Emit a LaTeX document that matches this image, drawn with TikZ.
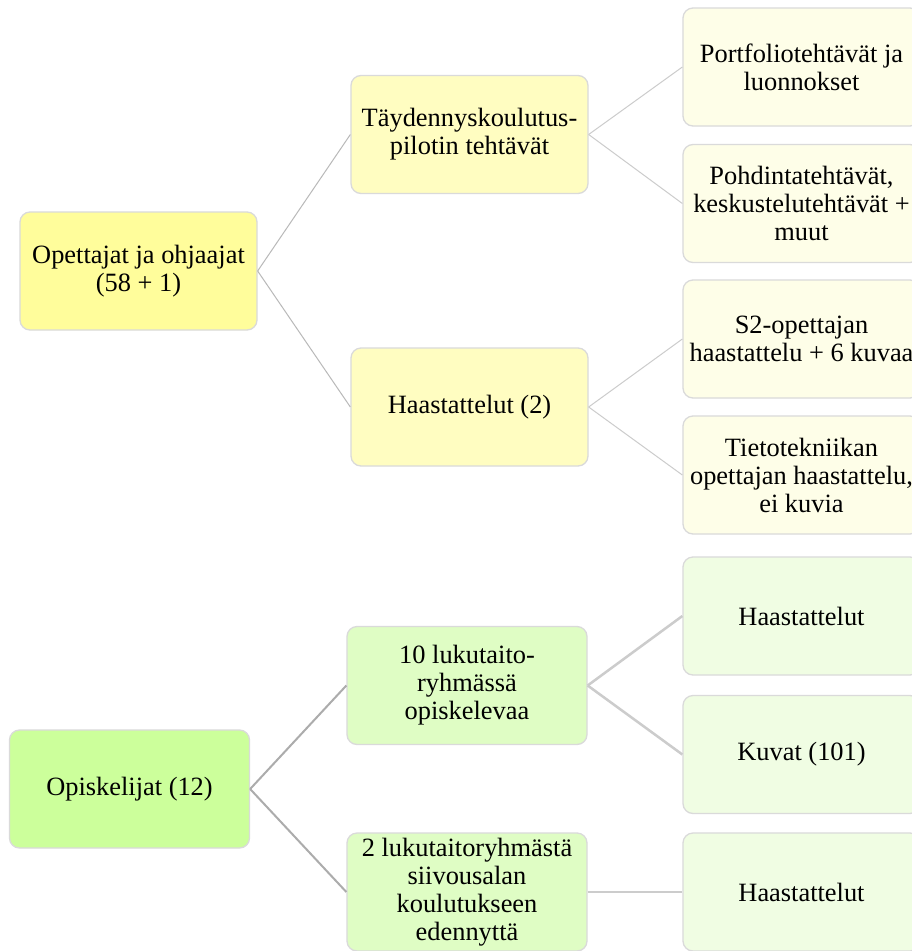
\documentclass[tikz,border=0pt]{standalone}
\usepackage{fontspec}
\setmainfont{Liberation Serif}
\usepackage{xcolor}
\usetikzlibrary{positioning}
\definecolor{ylwA}{RGB}{255,253,155}
\definecolor{ylwB}{RGB}{255,253,193}
\definecolor{ylwC}{RGB}{254,254,232}
\definecolor{grnA}{RGB}{204,255,155}
\definecolor{grnB}{RGB}{223,253,196}
\definecolor{grnC}{RGB}{240,253,227}
\definecolor{rimgray}{RGB}{218,218,218}
\tikzset{
  mbox/.style  = {rectangle, draw=rimgray, line width=1.3pt, rounded corners=10pt,
                  align=center, font=\fontsize{26.4}{28}\selectfont, inner sep=2pt,
                  minimum width=237pt, minimum height=118pt},
  ylwbox1/.style = {mbox, fill=ylwA},
  ylwbox2/.style = {mbox, fill=ylwB},
  ylwbox3/.style = {mbox, fill=ylwC},
  grnbox1/.style = {mbox, fill=grnA, minimum width=240pt},
  grnbox2/.style = {mbox, fill=grnB, minimum width=240pt},
  grnbox3/.style = {mbox, fill=grnC},
  thinlnk/.style = {draw=gray!55, line width=1pt},
  thinlnk2/.style= {draw=gray!40, line width=1pt},
  boldlnk/.style = {draw=gray!65, line width=2pt},
  boldlnk2/.style= {draw=gray!40, line width=2.5pt},
}

\begin{document}
\begin{tikzpicture}[x=1pt, y=-1pt]
  \useasboundingbox (0,0) rectangle (911,951);
  \fill[white] (0,0) rectangle (911,951);

  \node[ylwbox1] (opet)  at (138.5,271) {Opettajat ja ohjaajat\\(58 + 1)};
  \node[ylwbox2] (tayd)  at (469.5,134.5) {Täydennyskoulutus-\\pilotin tehtävät};
  \node[ylwbox2] (haas)  at (469.5,407) {Haastattelut (2)};
  \node[ylwbox3] (portf) at (801.5,67) {Portfoliotehtävät ja\\luonnokset};
  \node[ylwbox3] (pohd)  at (801.5,203.5) {Pohdintatehtävät,\\keskustelutehtävät +\\muut};
  \node[ylwbox3] (s2op)  at (801.5,339) {S2-opettajan\\haastattelu + 6 kuvaa};
  \node[ylwbox3] (tieto) at (801.5,475) {Tietotekniikan\\opettajan haastattelu,\\ei kuvia};

  \node[grnbox1] (opis)   at (129.5,789) {Opiskelijat (12)};
  \node[grnbox2] (luku10) at (467,685.5) {10 lukutaito-\\ryhmässä\\opiskelevaa};
  \node[grnbox2] (luku2)  at (467,892) {2 lukutaitoryhmästä\\siivousalan\\koulutukseen\\edennyttä};
  \node[grnbox3] (haasA)  at (801.5,616) {Haastattelut};
  \node[grnbox3] (kuvat)  at (801.5,754.5) {Kuvat (101)};
  \node[grnbox3] (haasB)  at (801.5,892) {Haastattelut};

  \foreach \a/\b in {opet/tayd, opet/haas}
    \draw[thinlnk] (\a.east) -- (\b.west);
  \foreach \a/\b in {tayd/portf, tayd/pohd, haas/s2op, haas/tieto}
    \draw[thinlnk2] (\a.east) -- (\b.west);
  \foreach \a/\b in {opis/luku10, opis/luku2}
    \draw[boldlnk] (\a.east) -- (\b.west);
  \foreach \a/\b in {luku10/haasA, luku10/kuvat, luku2/haasB}
    \draw[boldlnk2] (\a.east) -- (\b.west);
\end{tikzpicture}
\end{document}
